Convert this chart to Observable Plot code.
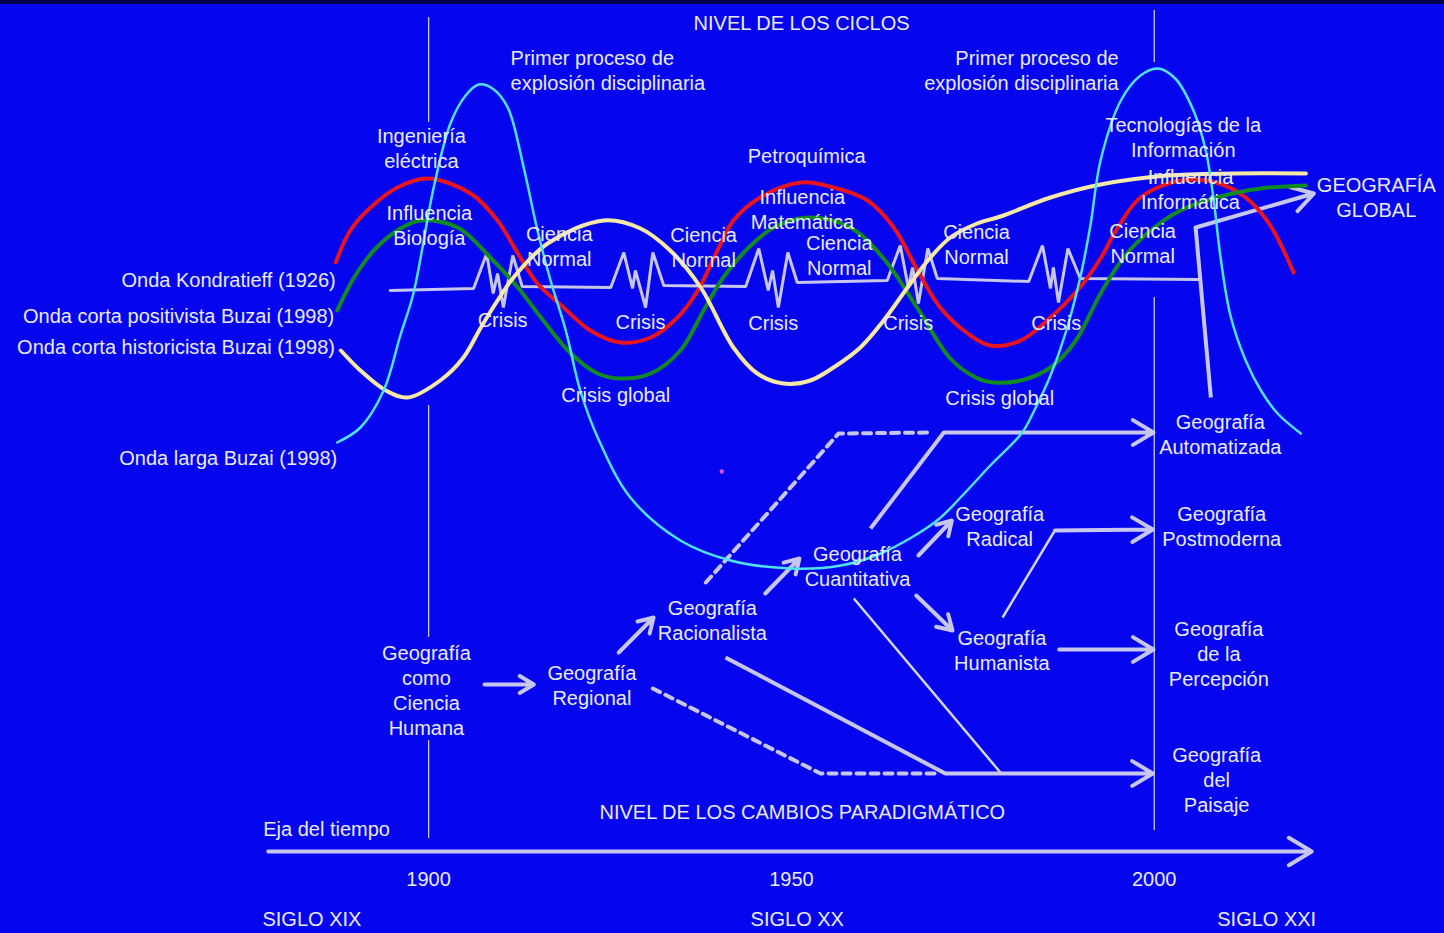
<!DOCTYPE html>
<html>
<head>
<meta charset="utf-8">
<script src="https://cdn.jsdelivr.net/npm/d3@7"></script>
<script src="https://cdn.jsdelivr.net/npm/@observablehq/plot@0.6"></script>
<style>
  html, body { margin: 0; padding: 0; background: #0505EE; overflow: hidden; }
  #chart { position: relative; width: 1444px; height: 933px; }
  #chart svg { display: block; }
  #topband { position: absolute; left: 0; top: 0; width: 1444px; height: 4px; background: #02024a; }
</style>
</head>
<body>
<div id="chart"><div id="topband"></div></div>
<script>
// ---------- DATA (x = year, y = vertical level, top = 0) ----------
const kondratieff = [[1887.2,262],[1889.2,230],[1892.0,207],[1895.7,187],[1899.8,178],[1905.8,193],[1909.5,220],[1912.3,253],[1915.0,283],[1918.6,307],[1922.3,330],[1926.4,342],[1930.6,337],[1934.3,317],[1937.1,290],[1939.8,250],[1942.0,220],[1945.7,197],[1951.3,182],[1955.8,187],[1960.5,200],[1964.1,227],[1967.4,270],[1970.5,307],[1974.3,333],[1977.4,345],[1981.6,340],[1985.7,317],[1989.4,290],[1992.6,258],[1994.9,228],[1998.1,197],[2003.6,180],[2008.5,182],[2012.6,197],[2016.0,225],[2019.2,272]];

const positivista = [[1887.4,310],[1889.9,275],[1892.7,248],[1896.1,228],[1898.9,220],[1904.0,227],[1908.5,257],[1912.3,287],[1915.8,320],[1919.6,353],[1923.3,373],[1926.4,378],[1930.6,373],[1934.7,350],[1937.9,310],[1940.6,277],[1944.4,245],[1947.8,226],[1952.6,217],[1958.1,227],[1962.7,258],[1967.4,308],[1971.9,358],[1975.4,377],[1977.9,382],[1981.6,380],[1985.7,367],[1989.2,340],[1992.6,293],[1996.0,255],[1999.5,230],[2003.6,210],[2009.1,196],[2014.7,188],[2020.9,185]];

const historicista = [[1887.9,350],[1890.6,370],[1894.1,390],[1897.1,397],[1901.6,380],[1904.8,357],[1907.2,327],[1909.5,300],[1911.7,277],[1916.4,243],[1924.1,220],[1929.2,228],[1933.3,250],[1937.5,287],[1942.0,347],[1945.3,373],[1948.9,383],[1952.6,380],[1955.8,367],[1959.5,347],[1962.7,320],[1966.0,287],[1968.8,260],[1971.9,237],[1975.6,223],[1978.8,216],[1985.7,197],[1992.6,184],[2001.8,175],[2010.9,173],[2020.9,173]];

const ondaLarga = [[1887.4,442],[1890.6,427],[1893.8,390],[1896.1,335],[1897.9,293],[1900.7,187],[1903.0,123],[1905.1,95],[1906.9,84],[1908.8,88],[1910.9,107],[1913.1,167],[1915.0,230],[1916.8,280],[1918.9,330],[1920.9,390],[1923.3,437],[1927.8,497],[1934.7,540],[1941.6,560],[1949.9,568],[1956.8,565],[1962.3,553],[1969.9,521],[1973.3,497],[1977.4,465],[1981.8,432],[1983.6,408],[1985.7,375],[1987.8,332],[1989.8,277],[1991.2,225],[1992.6,160],[1995.4,100],[1998.1,75],[2000.5,68],[2002.9,78],[2005.4,110],[2007.1,150],[2008.2,200],[2009.1,255],[2010.5,315],[2012.6,360],[2014.7,390],[2017.0,413],[2020.2,433]];

// Ciencia normal / crisis line
const cienciaCrisis = [[1894.7,290],[1906.2,288],[1908.0,253],[1908.9,293],[1909.5,273],[1910.3,307],[1911.6,255],[1912.9,286],[1925.1,287],[1926.9,252],[1928.1,288],[1928.5,270],[1929.9,307],[1930.9,252],[1932.4,285],[1943.7,286],[1945.5,248],[1946.8,290],[1947.4,270],[1948.2,307],[1949.5,252],[1950.8,282],[1963.2,280],[1965.0,245],[1966.1,287],[1966.7,267],[1967.5,303],[1968.8,248],[1970.1,278],[1982.7,281],[1984.6,245],[1985.7,288],[1986.1,267],[1986.8,302],[1988.1,248],[1989.8,278],[2006.1,279]];

// vertical reference lines at 1900 and 2000
const yearLines = [
  {year: 1900, from: 17, to: 122},
  {year: 1900, from: 405, to: 637},
  {year: 1900, from: 740, to: 838},
  {year: 2000, from: 10, to: 62},
  {year: 2000, from: 297, to: 830}
];

// time axis
const timeAxis = [{x1: 1877.9, x2: 2021.7, y: 851}];
const tickYears = [1900, 1950, 2000];
const tickLevel = 879;
const centuries = [
  {label: "SIGLO XIX", year: 1877.1, anchor: "start"},
  {label: "SIGLO XX", year: 1950.8, anchor: "middle"},
  {label: "SIGLO XXI", year: 2015.5, anchor: "middle"}
];
const centuryLevel = 919;

// wave legend labels
const waveLabels = [
  {text: "Onda Kondratieff (1926)", x: 1887.2, y: 280},
  {text: "Onda corta positivista Buzai (1998)", x: 1887.0, y: 316},
  {text: "Onda corta historicista Buzai (1998)", x: 1887.1, y: 347},
  {text: "Onda larga Buzai (1998)", x: 1887.4, y: 458}
];

// cycle-level labels
const cycleLabels = [
  {text: "NIVEL DE LOS CICLOS", x: 1951.4, y: 21},
  {text: "Ingeniería\neléctrica", x: 1899.0, y: 147},
  {text: "Influencia\nBiología", x: 1900.1, y: 224},
  {text: "Petroquímica", x: 1952.1, y: 154},
  {text: "Influencia\nMatemática", x: 1951.5, y: 208},
  {text: "Ciencia\nNormal", x: 1918.0, y: 245},
  {text: "Ciencia\nNormal", x: 1937.9, y: 246},
  {text: "Ciencia\nNormal", x: 1956.6, y: 254},
  {text: "Ciencia\nNormal", x: 1975.5, y: 243},
  {text: "Ciencia\nNormal", x: 1998.4, y: 242},
  {text: "Crisis", x: 1910.2, y: 318},
  {text: "Crisis", x: 1929.2, y: 320},
  {text: "Crisis", x: 1947.5, y: 321},
  {text: "Crisis", x: 1966.1, y: 321},
  {text: "Crisis", x: 1986.5, y: 321},
  {text: "Crisis global", x: 1925.8, y: 393},
  {text: "Crisis global", x: 1978.7, y: 396},
  {text: "Tecnologías de la\nInformación", x: 2004.0, y: 136},
  {text: "Influencia\nInformática", x: 2005.0, y: 188},
  {text: "GEOGRAFÍA\nGLOBAL", x: 2030.6, y: 196},
  {text: "NIVEL DE LOS CAMBIOS PARADIGMÁTICO", x: 1951.5, y: 810}
];
const explosionLabels = [
  {text: "Primer proceso de\nexplosión disciplinaria", x: 1911.3, y: 69, anchor: "start"},
  {text: "Primer proceso de\nexplosión disciplinaria", x: 1995.1, y: 69, anchor: "end"}
];

// paradigm labels
const paradigms = [
  {text: "Geografía\ncomo\nCiencia\nHumana", x: 1899.7, y: 688.5},
  {text: "Geografía\nRegional", x: 1922.5, y: 683.5},
  {text: "Geografía\nRacionalista", x: 1939.1, y: 618.5},
  {text: "Geografía\nCuantitativa", x: 1959.1, y: 564.5},
  {text: "Geografía\nRadical", x: 1978.7, y: 524.5},
  {text: "Geografía\nHumanista", x: 1979.0, y: 648.5},
  {text: "Geografía\nAutomatizada", x: 2009.1, y: 433},
  {text: "Geografía\nPostmoderna", x: 2009.3, y: 524.5},
  {text: "Geografía\nde la\nPercepción", x: 2008.9, y: 652.5},
  {text: "Geografía\ndel\nPaisaje", x: 2008.6, y: 778}
];
const axisTitle = [{text: "Eja del tiempo", x: 1877.2, y: 829}];

// paradigm transitions
const arrows = [
  {x1: 1907.7, y1: 684, x2: 1914.5, y2: 684},
  {x1: 1926.2, y1: 652, x2: 1931.0, y2: 617},
  {x1: 1946.4, y1: 593, x2: 1951.1, y2: 558},
  {x1: 1967.5, y1: 555, x2: 1972.1, y2: 520},
  {x1: 1967.2, y1: 595, x2: 1972.2, y2: 630},
  {x1: 1986.9, y1: 649, x2: 1999.9, y2: 649},
  {x1: 1971.0, y1: 432, x2: 1999.9, y2: 432},
  {x1: 1986.3, y1: 530, x2: 1999.8, y2: 529},
  {x1: 1971.2, y1: 773, x2: 1999.8, y2: 773},
  {x1: 2005.7, y1: 227, x2: 2022.0, y2: 193}
];
const thickLinks = [
  {x1: 1960.9, y1: 528, x2: 1971.0, y2: 432},
  {x1: 1940.9, y1: 657, x2: 1971.2, y2: 773},
  {x1: 2007.8, y1: 397, x2: 2005.7, y2: 227}
];
const thinLinks = [
  {x1: 1958.6, y1: 598, x2: 1978.8, y2: 772},
  {x1: 1979.1, y1: 617, x2: 1986.3, y2: 530}
];
const dashedRegional = [[1930.9, 688], [1954.0, 773], [1970.1, 773]];
const dashedRacionalista = [[1938.2, 582], [1956.5, 433], [1969.2, 432]];
const strayDot = [[1940.4, 471]];

// ---------- STYLE ----------
const BG = "#0505EE";
const TXT = "#EAEAF6";
const GRAY = "#C6C6EE";
const FONT = "Liberation Sans, Arial, Helvetica, sans-serif";
const FS = 20;
const LH = 1.26;

const chart = Plot.plot({
  width: 1444,
  height: 933,
  margin: 0,
  x: {domain: [1841, 2040], range: [0, 1444], axis: null},
  y: {domain: [0, 933], range: [0, 933], axis: null},
  style: {background: BG, fontFamily: FONT},
  marks: [
    Plot.ruleX(yearLines, {x: "year", y1: "from", y2: "to", stroke: "#C8C8F8", strokeWidth: 1.3}),
    // lower paradigm network
    Plot.line(dashedRegional, {stroke: GRAY, strokeWidth: 4, strokeDasharray: "8,6"}),
    Plot.line(dashedRacionalista, {stroke: GRAY, strokeWidth: 4, strokeDasharray: "8,6"}),
    Plot.link(thickLinks, {x1: "x1", y1: "y1", x2: "x2", y2: "y2", stroke: GRAY, strokeWidth: 4}),
    Plot.link(thinLinks, {x1: "x1", y1: "y1", x2: "x2", y2: "y2", stroke: "#D4D4F0", strokeWidth: 2.5}),
    Plot.arrow(arrows, {x1: "x1", y1: "y1", x2: "x2", y2: "y2", stroke: GRAY, strokeWidth: 4, headLength: 9, headAngle: 62}),
    // time axis
    Plot.arrow(timeAxis, {x1: "x1", x2: "x2", y1: "y", y2: "y", stroke: GRAY, strokeWidth: 4, headLength: 10, headAngle: 62}),
    // cycles
    Plot.line(cienciaCrisis, {stroke: GRAY, strokeWidth: 3, strokeLinejoin: "miter"}),
    Plot.line(kondratieff, {stroke: "#E8141E", strokeWidth: 4, curve: "catmull-rom"}),
    Plot.line(positivista, {stroke: "#118A22", strokeWidth: 4, curve: "catmull-rom"}),
    Plot.line(historicista, {stroke: "#F6E8A6", strokeWidth: 4, curve: "catmull-rom"}),
    Plot.line(ondaLarga, {stroke: "#4FE3F2", strokeWidth: 2.5, curve: "catmull-rom"}),
    Plot.dot(strayDot, {r: 2.2, fill: "#E050D0", stroke: null}),
    // texts
    Plot.text(waveLabels, {x: "x", y: "y", text: "text", textAnchor: "end", fill: TXT, fontSize: FS}),
    Plot.text(cycleLabels, {x: "x", y: "y", text: "text", fill: TXT, fontSize: FS, lineHeight: LH}),
    Plot.text(explosionLabels.filter(d => d.anchor === "start"), {x: "x", y: "y", text: "text", textAnchor: "start", fill: TXT, fontSize: FS, lineHeight: LH}),
    Plot.text(explosionLabels.filter(d => d.anchor === "end"), {x: "x", y: "y", text: "text", textAnchor: "end", fill: TXT, fontSize: FS, lineHeight: LH}),
    Plot.text(paradigms, {x: "x", y: "y", text: "text", fill: TXT, fontSize: FS, lineHeight: 1.25}),
    Plot.text(axisTitle, {x: "x", y: "y", text: "text", textAnchor: "start", fill: TXT, fontSize: FS}),
    Plot.text(tickYears, {x: d => d, y: () => tickLevel, text: d => String(d), fill: TXT, fontSize: FS}),
    Plot.text(centuries.filter(d => d.anchor === "start"), {x: "year", y: () => centuryLevel, text: "label", textAnchor: "start", fill: TXT, fontSize: FS}),
    Plot.text(centuries.filter(d => d.anchor === "middle"), {x: "year", y: () => centuryLevel, text: "label", fill: TXT, fontSize: FS})
  ]
});
document.getElementById("chart").appendChild(chart);
</script>
</body>
</html>
